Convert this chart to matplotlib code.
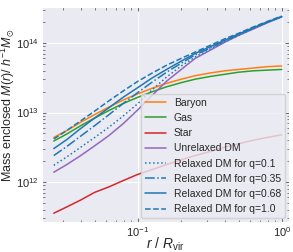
import numpy as np
import matplotlib
matplotlib.use('Agg')
import matplotlib.pyplot as plt
import seaborn as sns

# radius in units of R_vir
r = [0.026, 0.032, 0.04, 0.05, 0.063, 0.079, 0.1, 0.126, 0.158, 0.2,
     0.25, 0.32, 0.4, 0.5, 0.63, 0.79, 1.0]

# log10 enclosed mass [h^-1 Msun]
baryon = [12.64, 12.74, 12.86, 12.97, 13.08, 13.18, 13.27, 13.35, 13.42, 13.48,
          13.53, 13.57, 13.60, 13.62, 13.64, 13.66, 13.67]
gas = [12.59, 12.69, 12.81, 12.92, 13.03, 13.13, 13.22, 13.30, 13.37, 13.43,
       13.48, 13.52, 13.55, 13.58, 13.60, 13.61, 13.62]
star = [11.55, 11.64, 11.74, 11.85, 11.93, 12.02, 12.11, 12.18, 12.25, 12.32,
        12.38, 12.44, 12.50, 12.55, 12.60, 12.64, 12.68]
unrelaxed = [12.14, 12.25, 12.38, 12.52, 12.67, 12.84, 13.04, 13.25, 13.45, 13.62,
             13.78, 13.90, 14.01, 14.11, 14.20, 14.29, 14.38]
relaxed = {
    '0.1':  [12.24, 12.36, 12.50, 12.64, 12.79, 12.95, 13.13, 13.33, 13.51, 13.67,
             13.80, 13.92, 14.02, 14.11, 14.21, 14.30, 14.38],
    '0.35': [12.38, 12.51, 12.66, 12.81, 12.97, 13.13, 13.29, 13.44, 13.58, 13.71,
             13.83, 13.93, 14.03, 14.12, 14.21, 14.30, 14.38],
    '0.68': [12.48, 12.61, 12.77, 12.92, 13.07, 13.22, 13.36, 13.50, 13.62, 13.74,
             13.85, 13.95, 14.04, 14.13, 14.22, 14.30, 14.38],
    '1.0':  [12.62, 12.74, 12.88, 13.02, 13.17, 13.31, 13.45, 13.57, 13.68, 13.78,
             13.87, 13.97, 14.06, 14.14, 14.23, 14.31, 14.39],
}
styles = [':', '-.', '-', '--']

sns.set_style('darkgrid')
plt.rcParams['font.family'] = ['Liberation Sans', 'DejaVu Sans']
plt.rcParams['mathtext.fontset'] = 'custom'
plt.rcParams['mathtext.rm'] = 'Liberation Sans'
plt.rcParams['mathtext.it'] = 'Liberation Sans:italic'
plt.rcParams['mathtext.fallback'] = 'stixsans'

fig = plt.figure(figsize=(2.93, 2.52), dpi=100)
ax = fig.add_axes([0.143, 0.119, 0.843, 0.853])

lw = 1.1
ax.plot(r, 10**np.array(baryon), color='C1', lw=lw, label='Baryon')
ax.plot(r, 10**np.array(gas), color='C2', lw=lw, label='Gas')
ax.plot(r, 10**np.array(star), color='C3', lw=lw, label='Star')
ax.plot(r, 10**np.array(unrelaxed), color='C4', lw=lw, label='Unrelaxed DM')
for (q, vals), ls in zip(relaxed.items(), styles):
    ax.plot(r, 10**np.array(vals), color='C0', lw=lw, ls=ls,
            label='Relaxed DM for q=' + q)

ax.set_xscale('log')
ax.set_yscale('log')
ax.set_xlim(0.0215, 1.12)
ax.set_ylim(2.65e11, 3.3e14)

ax.tick_params(which='both', direction='in', top=True, right=True,
               bottom=True, left=True, labelsize=8, color='0.3', pad=2)
ax.tick_params(which='major', length=3, width=0.6)
ax.tick_params(which='minor', length=1.8, width=0.5)

ax.set_xlabel(r'$r$ / $R_{\rm vir}$', fontsize=10)
ax.set_ylabel(r'Mass enclosed $M(r)$/ $h^{-1}M_{\odot}$', fontsize=9)
ax.xaxis.set_label_coords(0.5, -0.062)
ax.yaxis.set_label_coords(-0.1, 0.545)

ax.legend(loc='lower right', fontsize=7.5, labelspacing=0.5,
          handlelength=2.0, borderaxespad=0.35)

fig.savefig('out.png', dpi=100)
